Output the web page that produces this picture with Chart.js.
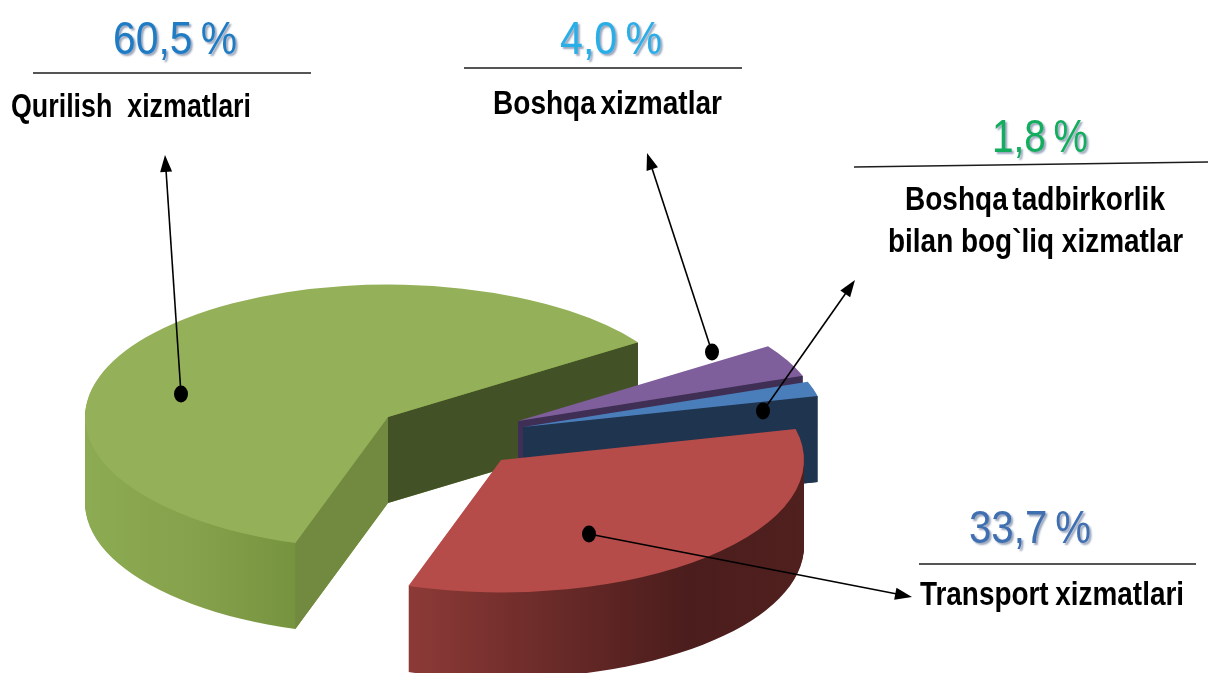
<!DOCTYPE html>
<html>
<head>
<meta charset="utf-8">
<title>Xizmatlar</title>
<script src="https://cdn.jsdelivr.net/npm/chart.js@4/dist/chart.umd.min.js"></script>
<style>
  html, body { margin: 0; padding: 0; background: #fff; overflow: hidden; }
  canvas { display: block; }
</style>
</head>
<body>
<canvas id="myChart" width="1208" height="673"></canvas>
<script>
// values
const categories = ["Qurilish  xizmatlari", "Boshqa xizmatlar", "Boshqa tadbirkorlik bilan bog`liq xizmatlar", "Transport xizmatlari"];
const shares = [60.5, 4.0, 1.8, 33.7];
const shareLabels = ["60,5 %", "4,0 %", "1,8 %", "33,7 %"];

// look of the fake 3d pie
const topColors = ["#94b058", "#7f5f9b", "#4a7ebb", "#b64c49"];
const startFaceColors = ["#728a3f", null, null, null];
const endFaceColors = ["#435226", "#3f2f55", "#1f344f", null];
const sliceCenters = [[388, 417], [518, 421], [523, 427], [501, 460]];
const tilt = 0.437;
const depth = 86;

const shareColors = ["#1f7cc4", "#2aaee8", "#13ad5e", "#3f6fb0"];
const percentBoxes = [[113, 237, 54], [560, 662, 54], [992, 1088, 152], [969, 1091, 543]];
const nameLines = [
  ["Qurilish  xizmatlari", 11, 251, 117, 0],
  ["Boshqa xizmatlar", 493, 722, 114, -3],
  ["Boshqa tadbirkorlik", 905, 1165, 210, -3],
  ["bilan bog`liq xizmatlar", 888, 1183, 252, 0],
  ["Transport xizmatlari", 920, 1184, 605, -1]
];
const rules = [[33, 73, 311, 73], [464, 68, 742, 68], [854, 167, 1208, 162], [919, 564, 1196, 564]];
const leaders = [[181, 394, 165, 155], [712, 352, 647, 153], [763, 411, 855, 280], [589, 534, 912, 597]];

function wallGradient(ctx, i) {
  var g;
  if (i == 0) {
    g = ctx.createLinearGradient(85, 0, 295, 0);
    g.addColorStop(0, "#8cab52");
    g.addColorStop(0.5, "#86a24c");
    g.addColorStop(1, "#76933f");
  } else if (i == 3) {
    g = ctx.createLinearGradient(408, 0, 806, 0);
    g.addColorStop(0, "#8d3a37");
    g.addColorStop(0.3, "#702d2b");
    g.addColorStop(0.7, "#4b1d1c");
    g.addColorStop(1, "#4f201e");
  } else {
    g = endFaceColors[i];
  }
  return g;
}

const pie3d = {
  id: "pie3d",
  beforeDatasetsDraw(chart) {
    const ctx = chart.ctx;
    const arcs = chart.getDatasetMeta(0).data;
    arcs.forEach(function (arc, i) {
      const cx = sliceCenters[i][0];
      const cy = sliceCenters[i][1];
      const r = arc.outerRadius;

      // curved wall, stacked copies of the wedge
      ctx.fillStyle = wallGradient(ctx, i);
      for (let k = depth; k > 0; k--) {
        ctx.beginPath();
        ctx.save();
        ctx.translate(cx, cy + k);
        ctx.scale(1, tilt);
        ctx.moveTo(0, 0);
        ctx.arc(0, 0, r, arc.startAngle, arc.endAngle);
        ctx.closePath();
        ctx.restore();
        ctx.fill();
      }

      // flat cut faces
      [[arc.startAngle, startFaceColors[i]], [arc.endAngle, endFaceColors[i]]].forEach(function (f) {
        if (!f[1]) return;
        const ex = cx + Math.cos(f[0]) * r;
        const ey = cy + Math.sin(f[0]) * r * tilt;
        ctx.fillStyle = f[1];
        ctx.beginPath();
        ctx.moveTo(cx, cy);
        ctx.lineTo(ex, ey);
        ctx.lineTo(ex, ey + depth);
        ctx.lineTo(cx, cy + depth);
        ctx.closePath();
        ctx.fill();
      });

      // top face comes from the library's own arc
      ctx.save();
      ctx.translate(cx, cy);
      ctx.scale(1, tilt);
      ctx.translate(-arc.x, -arc.y);
      arc.draw(ctx);
      ctx.restore();
    });
    return false;
  },
  afterDraw(chart) {
    const ctx = chart.ctx;

    rules.forEach(function (l) {
      ctx.strokeStyle = "#1c1c1c";
      ctx.lineWidth = 1.6;
      ctx.beginPath();
      ctx.moveTo(l[0], l[1]);
      ctx.lineTo(l[2], l[3]);
      ctx.stroke();
    });

    leaders.forEach(function (l) {
      const a = Math.atan2(l[3] - l[1], l[2] - l[0]);
      ctx.strokeStyle = "#000";
      ctx.fillStyle = "#000";
      ctx.lineWidth = 1.6;
      ctx.beginPath();
      ctx.moveTo(l[0], l[1]);
      ctx.lineTo(l[2] - Math.cos(a) * 10, l[3] - Math.sin(a) * 10);
      ctx.stroke();
      ctx.beginPath();
      ctx.ellipse(l[0], l[1], 7, 8.5, 0, 0, Math.PI * 2);
      ctx.fill();
      ctx.save();
      ctx.translate(l[2], l[3]);
      ctx.rotate(a);
      ctx.beginPath();
      ctx.moveTo(0, 0);
      ctx.lineTo(-17, 6);
      ctx.lineTo(-17, -6);
      ctx.closePath();
      ctx.fill();
      ctx.restore();
    });

    shareLabels.forEach(function (t, i) {
      const b = percentBoxes[i];
      ctx.save();
      ctx.shadowColor = "rgba(70,90,130,0.55)";
      ctx.shadowOffsetX = 2;
      ctx.shadowOffsetY = 2;
      ctx.shadowBlur = 2;
      ctx.fillStyle = shareColors[i];
      fitText(ctx, t, b[0], b[1], b[2], "38px 'Liberation Sans'", 1.22, -3);
      ctx.restore();
    });

    nameLines.forEach(function (n) {
      ctx.fillStyle = "#000";
      fitText(ctx, n[0], n[1], n[2], n[3], "bold 26px 'Liberation Sans'", 1.28, n[4]);
    });
  }
};

// the picture is stretched, so text is scaled to the span it takes up there
function fitText(ctx, text, left, right, baseline, font, stretch, wordGap) {
  ctx.save();
  ctx.font = font;
  ctx.wordSpacing = wordGap + "px";
  ctx.textAlign = "left";
  ctx.textBaseline = "alphabetic";
  const w = ctx.measureText(text).width;
  ctx.translate(left, baseline);
  ctx.scale((right - left) / w, stretch);
  ctx.fillText(text, 0, 0);
  ctx.restore();
}

new Chart(document.getElementById("myChart"), {
  type: "pie",
  data: {
    labels: categories,
    datasets: [{
      data: shares,
      backgroundColor: topColors,
      borderWidth: 0
    }]
  },
  options: {
    responsive: false,
    animation: false,
    rotation: 197.8,
    radius: 303,
    layout: { padding: 0 },
    plugins: {
      legend: { display: false },
      tooltip: { enabled: false }
    }
  },
  plugins: [pie3d]
});
</script>
</body>
</html>
